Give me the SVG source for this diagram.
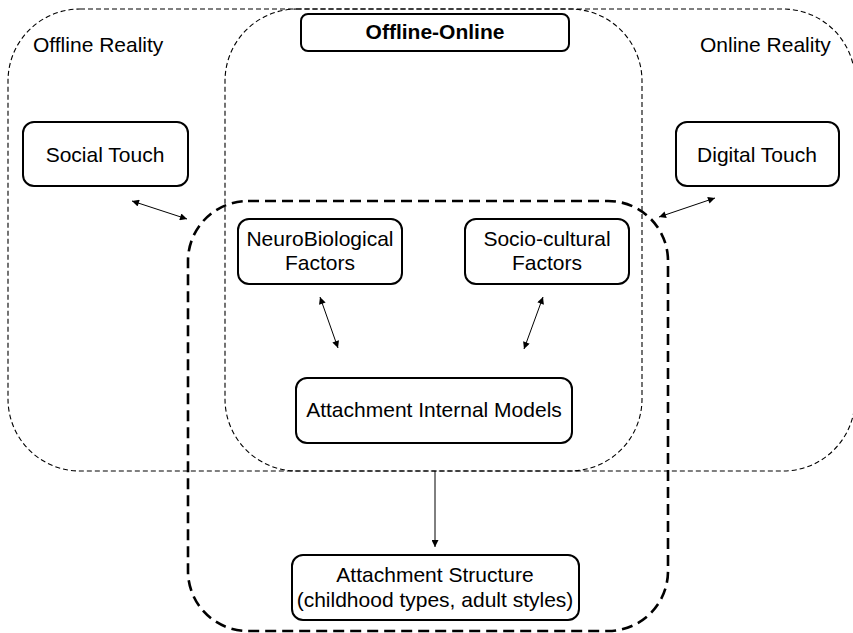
<svg xmlns="http://www.w3.org/2000/svg" width="853" height="633" viewBox="0 0 853 633">
<style>
.region{fill:none;stroke:#000;stroke-width:1.1;stroke-dasharray:5 3}
.core{fill:none;stroke:#000;stroke-width:2.6;stroke-dasharray:11 6}
.box{fill:#fff;stroke:#000;stroke-width:2}
.t{font-family:"Liberation Sans",Arial,sans-serif;font-size:21px;fill:#000;text-anchor:middle}
.lbl{font-family:"Liberation Sans",Arial,sans-serif;font-size:21px;fill:#000}
.b{font-weight:bold}
.c{stroke:#000;stroke-width:1;fill:none}
</style>
<defs>
<marker id="ah" viewBox="0 0 10 10" refX="10" refY="5" markerWidth="9" markerHeight="7" markerUnits="userSpaceOnUse" orient="auto-start-reverse">
<path d="M0,0 L10,5 L0,10 z" fill="#000"/>
</marker>
</defs>
<g id="regions">
<rect id="offline-reality" class="region" x="8" y="9" width="634" height="462" rx="72" ry="72"/>
<rect id="online-reality" class="region" x="225" y="9" width="630" height="462" rx="72" ry="72"/>
<rect id="attachment-core" class="core" x="188" y="201" width="480" height="430" rx="60" ry="60"/>
<text class="lbl" x="33" y="52">Offline Reality</text>
<text class="lbl" x="700" y="52">Online Reality</text>
</g>
<g id="offline-online">
<rect class="box" x="301" y="14" width="268" height="37" rx="7" stroke-width="1.5"/>
<text class="t b" x="435" y="39">Offline-Online</text>
</g>
<g id="social-touch">
<rect class="box" x="23" y="122" width="165" height="64" rx="11"/>
<text class="t" x="105" y="162">Social Touch</text>
</g>
<g id="digital-touch">
<rect class="box" x="676" y="122" width="163" height="64" rx="11"/>
<text class="t" x="757" y="162">Digital Touch</text>
</g>
<g id="neurobiological">
<rect class="box" x="238" y="219" width="164" height="65" rx="11"/>
<text class="t" x="320" y="246">NeuroBiological</text>
<text class="t" x="320" y="270">Factors</text>
</g>
<g id="sociocultural">
<rect class="box" x="465" y="219" width="164" height="65" rx="11"/>
<text class="t" x="547" y="246">Socio-cultural</text>
<text class="t" x="547" y="270">Factors</text>
</g>
<g id="internal-models">
<rect class="box" x="296" y="378" width="276" height="65" rx="11"/>
<text class="t" x="434" y="417">Attachment Internal Models</text>
</g>
<g id="attachment-structure">
<rect class="box" x="292" y="555" width="287" height="65" rx="11"/>
<text class="t" x="435" y="582">Attachment Structure</text>
<text class="t" x="435" y="607">(childhood types, adult styles)</text>
</g>
<g id="connectors">
<line class="c" x1="132" y1="201" x2="187" y2="219" marker-start="url(#ah)" marker-end="url(#ah)"/>
<line class="c" x1="659" y1="217" x2="715" y2="198" marker-start="url(#ah)" marker-end="url(#ah)"/>
<line class="c" x1="320" y1="297" x2="338" y2="348" marker-start="url(#ah)" marker-end="url(#ah)"/>
<line class="c" x1="543" y1="297" x2="524" y2="349" marker-start="url(#ah)" marker-end="url(#ah)"/>
<line class="c" x1="435" y1="471" x2="435" y2="547" marker-end="url(#ah)"/>
</g>
</svg>
